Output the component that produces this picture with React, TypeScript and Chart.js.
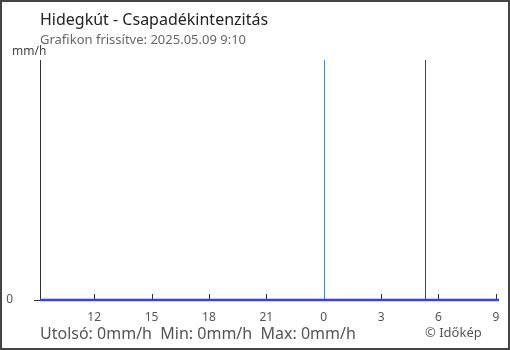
import React, { useEffect, useRef } from "react";
import { Chart, registerables } from "chart.js";

Chart.register(...registerables);

const title = "Hidegkút - Csapadékintenzitás";
const subtitle = "Grafikon frissítve: 2025.05.09 9:10";
const unitLabel = "mm/h";
const footerText = "Utolsó: 0mm/h  Min: 0mm/h  Max: 0mm/h";
const copyright = "© Időkép";

// hours since 2025.05.08 9:10
const startHour = 9 + 10 / 60;
const rangeHours = 24;
const rainHours = [0, 4, 8, 12, 16, 20, 24];
const rainValues = [0, 0, 0, 0, 0, 0, 0];
const tickHours = [12, 15, 18, 21, 0, 3, 6, 9];
const yTicks = [0];
const midnightHour = 0;
const sunriseHour = 5 + 18 / 60;

const toOffset = (h: number) => (h - startHour + 24) % 24;

const FONT = "'Noto Sans', 'Open Sans', sans-serif";

export default function App() {
  const ref = useRef<HTMLCanvasElement | null>(null);
  useEffect(() => {
    if (!ref.current) return;
    const decor = {
      id: "decor",
      beforeDraw(chart: any) {
        const { ctx } = chart;
        ctx.save();
        ctx.fillStyle = "#ffffff";
        ctx.fillRect(0, 0, chart.width, chart.height);
        ctx.restore();
      },
      beforeDatasetsDraw(chart: any) {
        const { ctx, chartArea, scales } = chart;
        ctx.save();
        ctx.fillStyle = "#333333";
        tickHours.forEach((h) => {
          const x = Math.round(scales.x.getPixelForValue(toOffset(h)));
          ctx.fillRect(x, chartArea.bottom - 6, 1, 6);
        });
        const xs = Math.round(scales.x.getPixelForValue(toOffset(sunriseHour)));
        ctx.fillStyle = "#444444";
        ctx.fillRect(xs, chartArea.top, 1, chartArea.bottom - chartArea.top);
        const xm = Math.round(scales.x.getPixelForValue(toOffset(midnightHour)));
        ctx.fillStyle = "rgb(30,155,240)";
        ctx.fillRect(xm, chartArea.top, 1, chartArea.bottom - chartArea.top);
        ctx.restore();
      },
      afterDraw(chart: any) {
        const { ctx } = chart;
        ctx.save();
        ctx.textBaseline = "alphabetic";
        ctx.textAlign = "left";
        ctx.fillStyle = "#222";
        ctx.font = `16px ${FONT}`;
        ctx.fillText(title, 40, 25);
        ctx.fillStyle = "#666";
        ctx.font = `13px ${FONT}`;
        ctx.fillText(subtitle, 40, 44);
        ctx.fillStyle = "#444";
        ctx.font = `12px ${FONT}`;
        ctx.fillText(unitLabel, 12, 55);
        ctx.fillStyle = "#555";
        ctx.font = `16px ${FONT}`;
        ctx.fillText(footerText, 40, 339);
        ctx.font = `13px ${FONT}`;
        ctx.fillText(copyright, 425, 337);
        ctx.strokeStyle = "#444";
        ctx.lineWidth = 2;
        ctx.strokeRect(1, 1, chart.width - 2, chart.height - 2);
        ctx.restore();
      },
    };
    const chart = new Chart(ref.current, {
      type: "line",
      data: {
        datasets: [
          {
            data: rainHours.map((h, i) => ({ x: h, y: rainValues[i] })),
            borderColor: "#3c3cf5",
            borderWidth: 2.5,
            pointRadius: 0,
            tension: 0,
            clip: 6,
          },
        ],
      },
      options: {
        responsive: false,
        animation: false,
        layout: { padding: { left: 0, top: 60, right: 11, bottom: 0 } },
        plugins: { legend: { display: false }, tooltip: { enabled: false }, title: { display: false } },
        scales: {
          x: {
            type: "linear",
            min: 0,
            max: rangeHours,
            afterBuildTicks: (s: any) => {
              s.ticks = tickHours.map((h) => ({ value: toOffset(h) }));
            },
            afterFit: (s: any) => {
              s.height = 50;
            },
            grid: { display: false },
            border: { display: false },
            ticks: {
              autoSkip: false,
              maxRotation: 0,
              padding: 2,
              color: "#555",
              font: { family: FONT, size: 12 },
              callback: (v: any) => {
                const idx = tickHours.findIndex((h) => Math.abs(toOffset(h) - v) < 1e-6);
                return idx >= 0 ? String(tickHours[idx]) : "";
              },
            },
          },
          y: {
            min: 0,
            max: 1,
            afterBuildTicks: (s: any) => {
              s.ticks = yTicks.map((v) => ({ value: v }));
            },
            afterFit: (s: any) => {
              s.width = 40;
            },
            grid: { drawOnChartArea: false, drawTicks: true, tickLength: 6, color: "#333" },
            border: { display: true, color: "#333", width: 1 },
            ticks: {
              padding: 21,
              color: "#555",
              font: { family: FONT, size: 12 },
            },
          },
        },
      },
      plugins: [decor],
    });
    return () => chart.destroy();
  }, []);
  return (
    <div style={{ position: "absolute", left: 0, top: 0, width: 510, height: 350 }}>
      <canvas ref={ref} width={510} height={350} style={{ display: "block" }} />
    </div>
  );
}
